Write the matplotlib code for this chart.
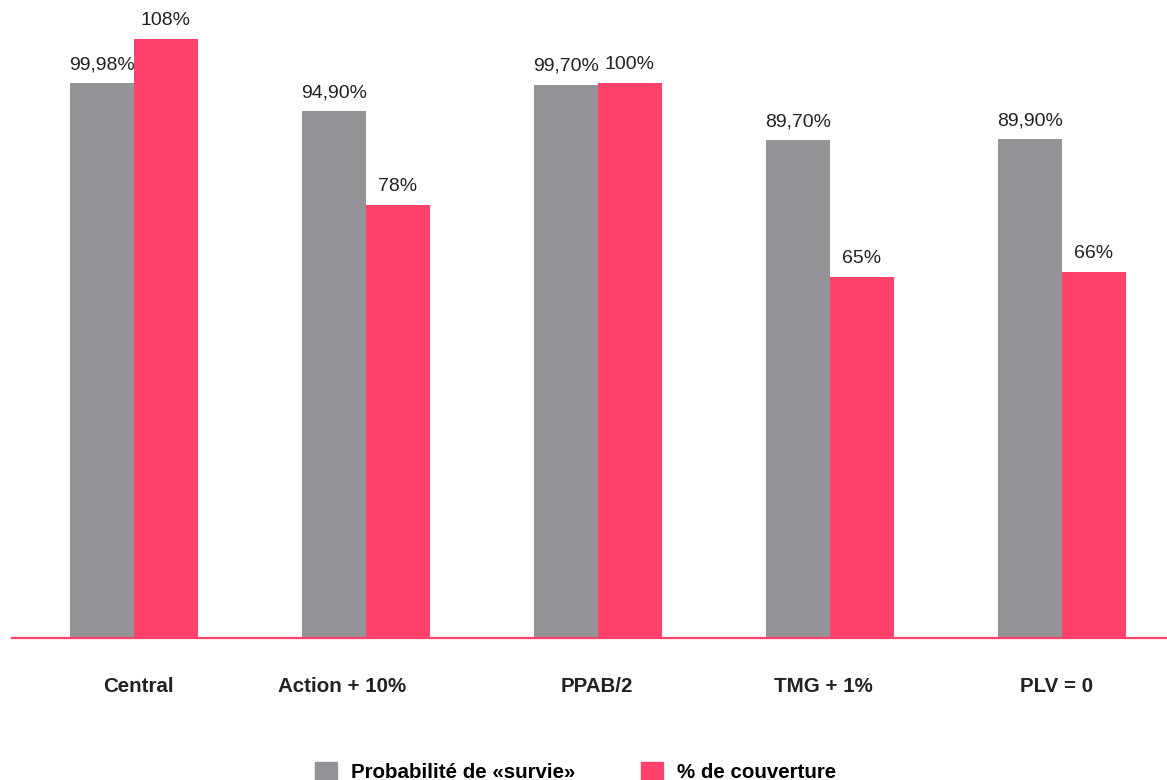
import numpy as np
import matplotlib.pyplot as plt
import matplotlib.transforms as mtransforms
from matplotlib.patches import Patch

plt.rcParams['font.family'] = ['Liberation Sans', 'DejaVu Sans']

categories = ["Central", "Action + 10%", "PPAB/2", "TMG + 1%", "PLV = 0"]
survie = [99.98, 94.90, 99.70, 89.70, 89.90]
couverture = [108, 78, 100, 65, 66]
survie_labels = ["99,98%", "94,90%", "99,70%", "89,70%", "89,90%"]
couverture_labels = ["108%", "78%", "100%", "65%", "66%"]

# horizontal nudge of each category label, in points
label_shift = [3, -17, -1, -5, -4]

grey = "#939398"
pink = "#ff416c"
text_col = "#222222"

fig = plt.figure(figsize=(11.67, 7.8), dpi=100)
ax = fig.add_axes([12 / 1167, 142 / 780, 1 - 12 / 1167, 610.5 / 780])

x = np.arange(len(categories))
width = 0.275
b1 = ax.bar(x - width / 2, survie, width, color=grey, label="Probabilité de «survie»")
b2 = ax.bar(x + width / 2, couverture, width, color=pink, label="% de couverture")

for rect, lab in zip(b1, survie_labels):
    ax.text(rect.get_x() + rect.get_width() / 2, rect.get_height() + 1.8, lab,
            ha="center", va="bottom", fontsize=14, color=text_col)
for rect, lab in zip(b2, couverture_labels):
    ax.text(rect.get_x() + rect.get_width() / 2, rect.get_height() + 1.8, lab,
            ha="center", va="bottom", fontsize=14, color=text_col)

ax.set_xlim(-0.526, 4.453)
ax.set_ylim(0, 110)
ax.set_xticks(x)
ax.set_xticklabels(categories, fontsize=14.8, fontweight="bold", color=text_col)
ax.tick_params(axis="x", length=0, pad=28)
for lbl, dx in zip(ax.get_xticklabels(), label_shift):
    offset = mtransforms.ScaledTranslation(dx / 72, 0, fig.dpi_scale_trans)
    lbl.set_transform(lbl.get_transform() + offset)
ax.set_yticks([])
for side in ["left", "right", "top"]:
    ax.spines[side].set_visible(False)
ax.spines["bottom"].set_color(pink)
ax.spines["bottom"].set_linewidth(1.6)

handles = [Patch(color=grey), Patch(color=pink)]
fig.legend(handles, ["Probabilité de «survie»", "% de couverture"],
           ncol=2, frameon=False, loc="center left",
           bbox_to_anchor=(315 / 1167, 8 / 780),
           prop={"size": 14.8, "weight": "bold"},
           handlelength=1.07, handleheight=1.07, handletextpad=0.68,
           columnspacing=3.2, borderpad=0, borderaxespad=0)

fig.savefig("out.png", dpi=100, facecolor="white")
